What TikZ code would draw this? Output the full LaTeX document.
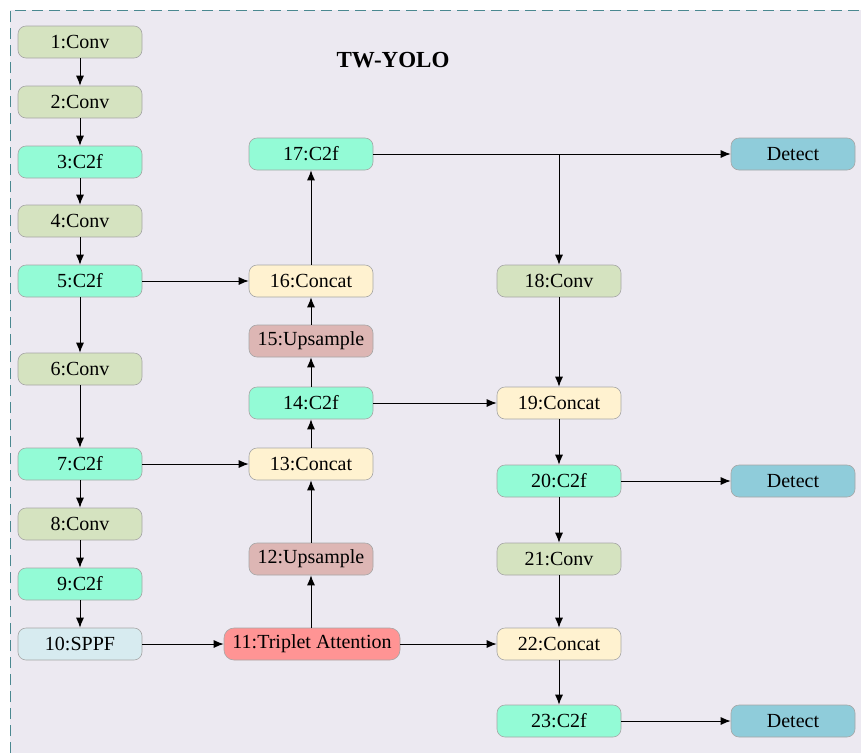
\documentclass[tikz,border=0pt]{standalone}
\usepackage{fontspec}
\setmainfont{Liberation Serif}
\usetikzlibrary{arrows.meta}
\definecolor{bgc}{HTML}{ECE9F1}
\definecolor{dashc}{HTML}{4A8890}
\definecolor{convc}{HTML}{D5E3C0}
\definecolor{cfc}{HTML}{93FBD6}
\definecolor{catc}{HTML}{FFF2D0}
\definecolor{upc}{HTML}{DDB6B4}
\definecolor{tac}{HTML}{FF9494}
\definecolor{sppfc}{HTML}{D7EBF0}
\definecolor{detc}{HTML}{8FCCDA}
\begin{document}
\begin{tikzpicture}[x=1pt,y=-1pt,
  blk/.style={draw=gray!70, line width=0.6pt, rounded corners=8pt, minimum width=124pt, minimum height=32pt, inner sep=0pt, font=\fontsize{20}{22}\selectfont},
  conv/.style={blk, fill=convc},
  cf/.style={blk, fill=cfc},
  cat/.style={blk, fill=catc},
  up/.style={blk, fill=upc},
  sppf/.style={blk, fill=sppfc},
  det/.style={blk, fill=detc},
  ta/.style={blk, fill=tac, minimum width=176pt, rounded corners=10pt},
  arr/.style={-{Latex[length=10pt,width=8pt]}, line width=1pt, black}]
\useasboundingbox (0,0) rectangle (861,753);
\fill[white] (0,0) rectangle (861,753);
\fill[bgc] (10,10) rectangle (861,753);
\draw[dashc, line width=1pt, dash pattern=on 11pt off 6pt] (10,753) -- (10,10) -- (861,10);
\node[font=\bfseries\fontsize{23}{26}\selectfont] (title) at (393,60) {TW-YOLO};
% column 1
\node[conv] (n1) at (80,42) {1:Conv};
\node[conv] (n2) at (80,102) {2:Conv};
\node[cf] (n3) at (80,162) {3:C2f};
\node[conv] (n4) at (80,221) {4:Conv};
\node[cf] (n5) at (80,281) {5:C2f};
\node[conv] (n6) at (80,369) {6:Conv};
\node[cf] (n7) at (80,464) {7:C2f};
\node[conv] (n8) at (80,524) {8:Conv};
\node[cf] (n9) at (80,584) {9:C2f};
\node[sppf] (n10) at (80,644) {10:SPPF};
% column 2
\node[cf] (n17) at (311,154) {17:C2f};
\node[cat] (n16) at (311,281) {16:Concat};
\node[up] (n15) at (311,341) {15:Upsample};
\node[cf] (n14) at (311,403) {14:C2f};
\node[cat] (n13) at (311,464) {13:Concat};
\node[up] (n12) at (311,559) {12:Upsample};
\node[ta] (n11) at (312,644) {11:Triplet Attention};
% column 3
\node[conv] (n18) at (559,281) {18:Conv};
\node[cat] (n19) at (559,403) {19:Concat};
\node[cf] (n20) at (559,481) {20:C2f};
\node[conv] (n21) at (559,559) {21:Conv};
\node[cat] (n22) at (559,644) {22:Concat};
\node[cf] (n23) at (559,721) {23:C2f};
% detect
\node[det] (d1) at (793,154) {Detect};
\node[det] (d2) at (793,481) {Detect};
\node[det] (d3) at (793,721) {Detect};
% edges
\draw[arr] (n1) -- (n2);
\draw[arr] (n2) -- (n3);
\draw[arr] (n3) -- (n4);
\draw[arr] (n4) -- (n5);
\draw[arr] (n5) -- (n6);
\draw[arr] (n6) -- (n7);
\draw[arr] (n7) -- (n8);
\draw[arr] (n8) -- (n9);
\draw[arr] (n9) -- (n10);
\draw[arr] (n5) -- (n16);
\draw[arr] (n7) -- (n13);
\draw[arr] (n10) -- (n11);
\draw[arr] (n11.north -| n12) -- (n12);
\draw[arr] (n12) -- (n13);
\draw[arr] (n13) -- (n14);
\draw[arr] (n14) -- (n15);
\draw[arr] (n15) -- (n16);
\draw[arr] (n16) -- (n17);
\draw[arr] (n17) -- (d1);
\coordinate (br) at (n18.north |- n17);
\draw[line width=1pt] (n17.east) -- (br);
\draw[arr] (br) -- (n18);
\draw[arr] (n18) -- (n19);
\draw[arr] (n14) -- (n19);
\draw[arr] (n19) -- (n20);
\draw[arr] (n20) -- (d2);
\draw[arr] (n20) -- (n21);
\draw[arr] (n21) -- (n22);
\draw[arr] (n11) -- (n22);
\draw[arr] (n22) -- (n23);
\draw[arr] (n23) -- (d3);
\end{tikzpicture}
\end{document}
